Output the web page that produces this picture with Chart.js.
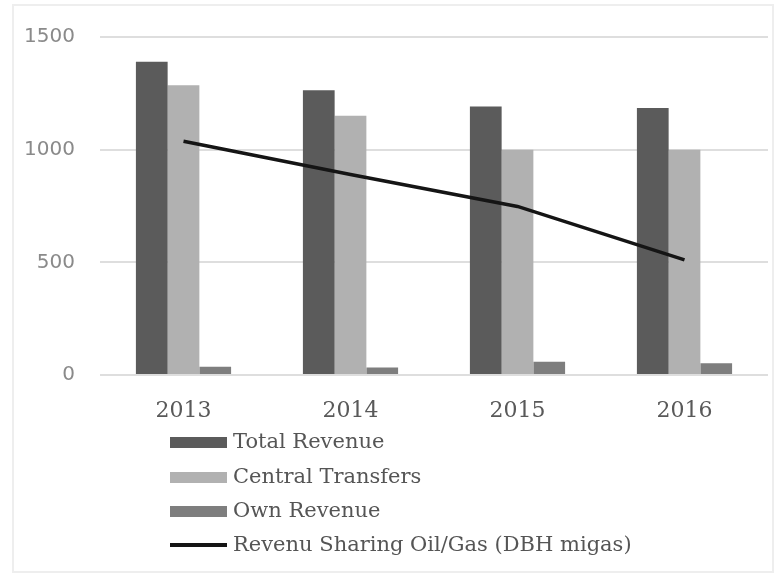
<!DOCTYPE html>
<html>
<head>
<meta charset="utf-8">
<script src="https://cdn.jsdelivr.net/npm/chart.js@4/dist/chart.umd.min.js"></script>
<style>
  html, body { margin: 0; padding: 0; background: #ffffff; }
  #wrap { position: relative; width: 778px; height: 575px; }
  canvas { display: block; }
</style>
</head>
<body>
<div id="wrap"><canvas id="c" width="778" height="575"></canvas></div>
<script>
const categories = ["2013", "2014", "2015", "2016"];
const totalRevenue = [1390, 1264, 1192, 1185];
const centralTransfers = [1286, 1151, 1000, 1000];
const ownRevenue = [37, 33, 59, 52];
const dbhMigas = [1037, 890, 748, 511];
const yTicks = [0, 500, 1000, 1500];
const seriesNames = ["Total Revenue", "Central Transfers", "Own Revenue", "Revenu Sharing Oil/Gas (DBH migas)"];

const frame = {
  id: 'frame',
  beforeDraw(chart) {
    const ctx = chart.ctx;
    ctx.save();
    ctx.fillStyle = '#ffffff';
    ctx.fillRect(0, 0, chart.width, chart.height);
    ctx.strokeStyle = '#eeeeee';
    ctx.lineWidth = 2;
    ctx.strokeRect(13, 5, 760, 567);
    ctx.restore();
  }
};

const vLegend = {
  id: 'vLegend',
  afterDraw(chart) {
    const ctx = chart.ctx;
    const x0 = 170, sw = 57, rows = [442, 477, 511, 545];
    ctx.save();
    ctx.font = '21px "DejaVu Serif"';
    ctx.textBaseline = 'middle';
    ctx.textAlign = 'left';
    chart.data.datasets.forEach((ds, i) => {
      const y = rows[i];
      if (ds.type === 'line') {
        ctx.fillStyle = ds.borderColor;
        ctx.fillRect(x0, y - 2, sw, 4);
      } else {
        ctx.fillStyle = ds.backgroundColor;
        ctx.fillRect(x0, y - 5, sw, 11);
      }
      ctx.fillStyle = '#555555';
      ctx.fillText(ds.label, x0 + 63, y + 1);
    });
    ctx.restore();
  }
};

new Chart(document.getElementById('c'), {
  data: {
    labels: categories,
    datasets: [
      { type: 'bar', label: seriesNames[0], data: totalRevenue, backgroundColor: '#5b5b5b', order: 2 },
      { type: 'bar', label: seriesNames[1], data: centralTransfers, backgroundColor: '#b1b1b1', order: 2 },
      { type: 'bar', label: seriesNames[2], data: ownRevenue, backgroundColor: '#7e7e7e', order: 2 },
      { type: 'line', label: seriesNames[3], data: dbhMigas, borderColor: '#151515', backgroundColor: '#151515',
        borderWidth: 3.5, pointRadius: 0, tension: 0, order: 1 }
    ]
  },
  options: {
    responsive: false,
    animation: false,
    layout: { padding: { left: 0, right: 10, top: 31, bottom: 155 } },
    datasets: { bar: { categoryPercentage: 0.57, barPercentage: 1.0 } },
    plugins: { legend: { display: false }, tooltip: { enabled: false } },
    scales: {
      x: {
        grid: { display: false },
        border: { display: false },
        ticks: { color: '#595959', font: { family: 'DejaVu Serif', size: 22 }, padding: 15 },
        afterFit(s) { s.height = 45; }
      },
      y: {
        min: 0, max: 1500,
        afterBuildTicks(s) { s.ticks = yTicks.map(v => ({ value: v })); },
        grid: { color: '#dedede', lineWidth: 2, drawTicks: false },
        border: { display: false },
        ticks: { color: '#8a8a8a', font: { family: 'DejaVu Sans', size: 20 }, padding: 25,
                 callback: (v) => String(v) },
        afterFit(s) { s.width = 100; }
      }
    }
  },
  plugins: [frame, vLegend]
});
</script>
</body>
</html>
